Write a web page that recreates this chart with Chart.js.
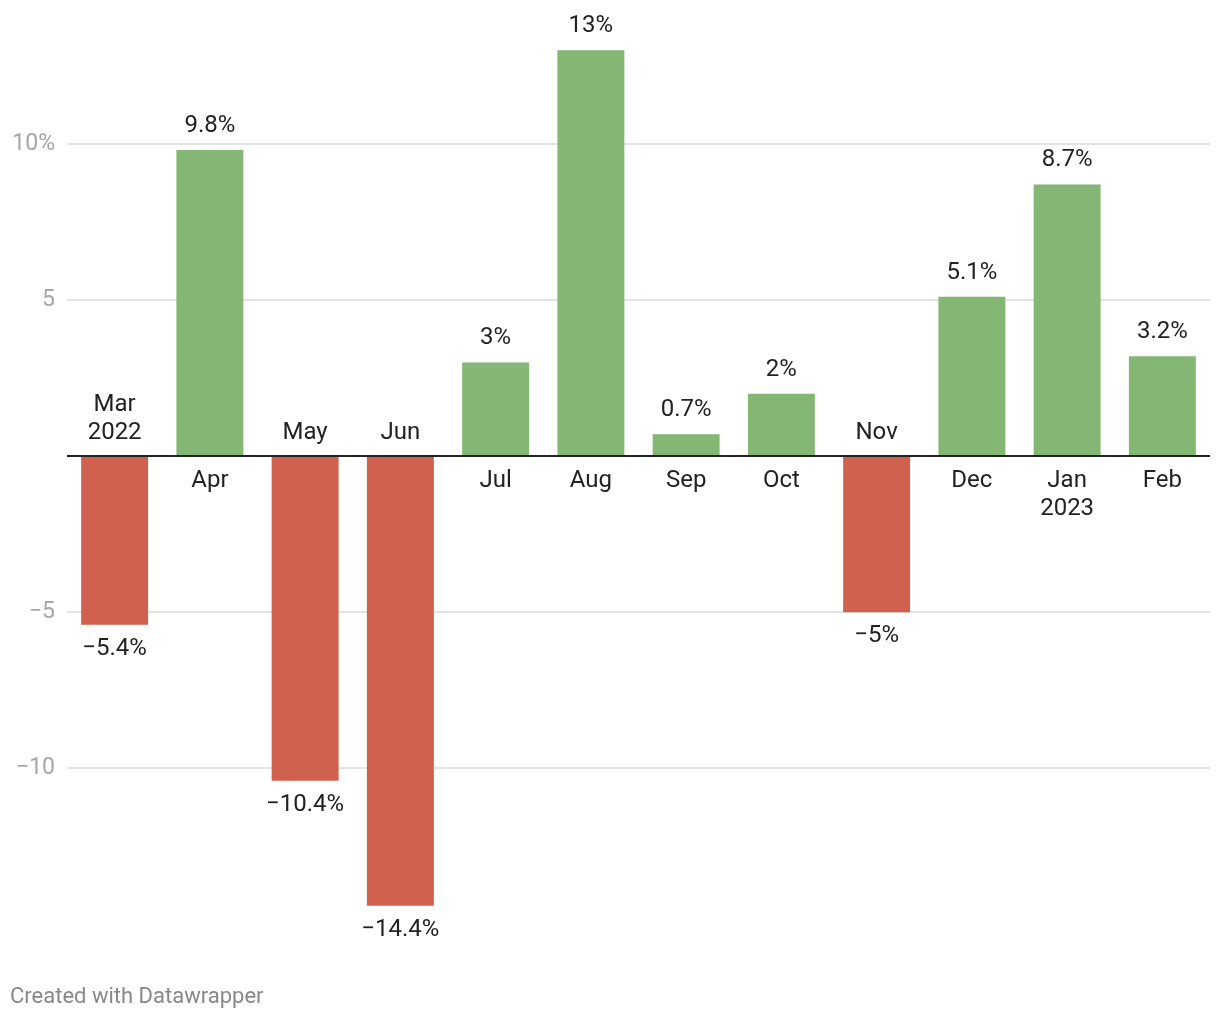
<!DOCTYPE html>
<html>
<head>
<meta charset="utf-8">
<script src="https://cdn.jsdelivr.net/npm/chart.js@4"></script>
<style>
  html, body { margin: 0; padding: 0; background: #fff; }
  #wrap { position: relative; width: 1220px; height: 1020px; }
  #footer { position: absolute; left: 10px; top: 983px; font: 22px Roboto, sans-serif; color: #888; }
</style>
</head>
<body>
<div id="wrap">
  <canvas id="chart" width="1220" height="1020"></canvas>
  <div id="footer">Created with Datawrapper</div>
</div>
<script>
// 月別の変化率 (%)
const months = [['Mar', '2022'], ['Apr'], ['May'], ['Jun'], ['Jul'], ['Aug'], ['Sep'], ['Oct'], ['Nov'], ['Dec'], ['Jan', '2023'], ['Feb']];
const changes = [-5.4, 9.8, -10.4, -14.4, 3, 13, 0.7, 2, -5, 5.1, 8.7, 3.2];
const yTicks = [-10, -5, 0, 5, 10];

const GREEN = '#84b674';
const RED = '#cf614e';
const FONT = 'Roboto, sans-serif';

function fmt(v) {
    return (v < 0 ? '\u2212' : '') + Math.abs(v) + '%';
}

// 値ラベルと月ラベル、ゼロ線
const labelPlugin = {
    id: 'labels',
    afterDatasetsDraw(chart) {
        const ctx = chart.ctx;
        const area = chart.chartArea;
        const y0 = chart.scales.y.getPixelForValue(0);
        ctx.save();
        ctx.strokeStyle = '#222';
        ctx.lineWidth = 2;
        ctx.beginPath();
        ctx.moveTo(area.left, y0);
        ctx.lineTo(area.right, y0);
        ctx.stroke();

        ctx.font = '24px ' + FONT;
        ctx.fillStyle = '#222';
        ctx.textAlign = 'center';
        ctx.textBaseline = 'middle';
        const meta = chart.getDatasetMeta(0);
        meta.data.forEach((bar, i) => {
            const v = changes[i];
            if (v >= 0) {
                ctx.fillText(fmt(v), bar.x, bar.y - 24);
                months[i].forEach((line, j) => ctx.fillText(line, bar.x, y0 + 25 + j * 28));
            } else {
                ctx.fillText(fmt(v), bar.x, bar.y + 24);
                const n = months[i].length;
                months[i].forEach((line, j) => ctx.fillText(line, bar.x, y0 - 23 - (n - 1 - j) * 28));
            }
        });
        ctx.restore();
    }
};

new Chart(document.getElementById('chart'), {
    type: 'bar',
    data: {
        labels: months,
        datasets: [{
            data: changes,
            backgroundColor: changes.map(v => v >= 0 ? GREEN : RED),
            borderWidth: 0,
            barPercentage: 0.703,
            categoryPercentage: 1
        }]
    },
    options: {
        responsive: false,
        animation: false,
        layout: { padding: { top: 16.8, bottom: 95.5, left: 0, right: 10 } },
        plugins: {
            legend: { display: false },
            tooltip: { enabled: false }
        },
        scales: {
            x: {
                display: false
            },
            y: {
                min: -15,
                max: 14,
                afterFit(scale) { scale.width = 67; },
                afterBuildTicks(scale) { scale.ticks = yTicks.map(v => ({ value: v })); },
                border: { display: false },
                grid: {
                    drawTicks: false,
                    lineWidth: 2,
                    color: c => c.tick && c.tick.value === 0 ? 'rgba(0,0,0,0)' : '#e3e3e3'
                },
                ticks: {
                    padding: 12,
                    color: '#a6a6a6',
                    font: { family: FONT, size: 23, lineHeight: 0.6 },
                    callback: v => v === 0 ? '' : (v === 10 ? '10%' : (v < 0 ? '\u2212' + Math.abs(v) : String(v)))
                }
            }
        }
    },
    plugins: [labelPlugin]
});
</script>
</body>
</html>
